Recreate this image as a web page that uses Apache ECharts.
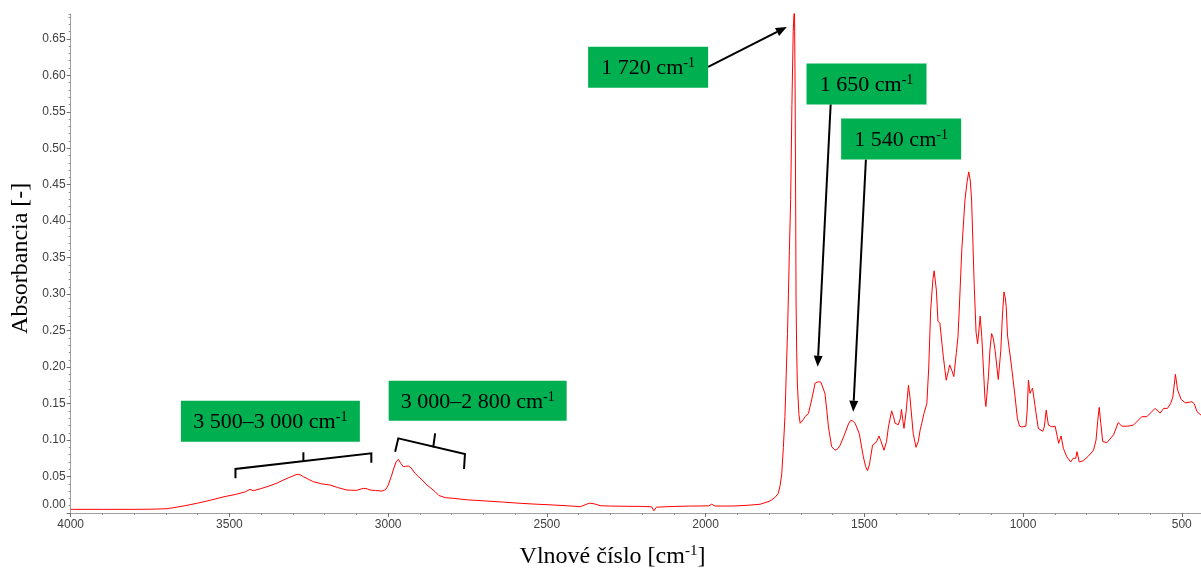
<!DOCTYPE html>
<html>
<head>
<meta charset="utf-8">
<title>FTIR spektrum</title>
<script src="https://cdn.jsdelivr.net/npm/echarts@6/dist/echarts.min.js"></script>
<style>
  html, body { margin: 0; padding: 0; background: #ffffff; }
  #chart { width: 1201px; height: 571px; }
</style>
</head>
<body>
<div id="chart"></div>
<script>
// Wavenumber [cm-1] of each sampled point, from high to low
const wavenumbers = [
  4000, 3900, 3800, 3750, 3700, 3680, 3640, 3600, 3560, 3520, 3480, 3450, 3435, 3425, 3400,
  3372, 3350, 3330, 3310, 3290, 3283, 3275, 3267, 3250, 3236, 3210, 3183, 3160, 3130, 3100,
  3078, 3065, 3057, 3040, 3020, 3008, 3000, 2990, 2984, 2975, 2968, 2960, 2952, 2945, 2936,
  2928, 2915, 2905, 2899, 2892, 2878, 2865, 2852, 2840, 2820, 2795, 2750, 2689, 2640, 2584,
  2530, 2480, 2420, 2395, 2375, 2365, 2350, 2332, 2300, 2250, 2200, 2170, 2163, 2155, 2100,
  2050, 2017, 1990, 1981, 1970, 1913, 1870, 1828, 1800, 1792, 1780, 1771, 1765, 1760, 1755,
  1750, 1746, 1742, 1739, 1736, 1732, 1728, 1724, 1720, 1718, 1716, 1715, 1713, 1711, 1706,
  1702, 1697, 1692, 1687, 1676, 1666, 1655, 1644, 1637, 1631, 1624, 1618, 1613, 1603, 1592,
  1584, 1576, 1561, 1550, 1543, 1536, 1529, 1516, 1503, 1496, 1490, 1484, 1480, 1474, 1466,
  1460, 1454, 1448, 1438, 1430, 1424, 1414, 1408, 1403, 1393, 1386, 1383, 1378, 1375, 1368,
  1361, 1356, 1346, 1337, 1330, 1324, 1319, 1312, 1303, 1297, 1291, 1284, 1280, 1273, 1268,
  1262, 1251, 1242, 1235, 1231, 1224, 1218, 1210, 1205, 1201, 1193, 1183, 1176, 1171, 1166,
  1162, 1154, 1148, 1143, 1138, 1135, 1130, 1125, 1120, 1117, 1109, 1104, 1099, 1094, 1088,
  1078, 1070, 1065, 1060, 1056, 1053, 1049, 1036, 1025, 1018, 1011, 1004, 991, 987, 983,
  978, 974, 970, 962, 952, 938, 933, 927, 922, 920, 909, 899, 892, 888, 880,
  873, 862, 850, 842, 834, 830, 823, 810, 794, 778, 770, 765, 760, 755, 749,
  736, 715, 700, 689, 670, 652, 626, 610, 584, 568, 557, 545, 535, 528, 520,
  513, 502, 489, 468, 461, 452, 439, 420, 400
];

// Absorbance [-] at each wavenumber above
const absorbance = [
  0.005, 0.005, 0.005, 0.0052, 0.0058, 0.007, 0.010, 0.0135, 0.0175, 0.022, 0.0255, 0.029, 0.0325, 0.0305, 0.0335,
  0.0374, 0.041, 0.0452, 0.049, 0.0525, 0.053, 0.052, 0.0497, 0.046, 0.0429, 0.040, 0.0384, 0.035, 0.0315, 0.031,
  0.0338, 0.033, 0.0315, 0.0308, 0.0301, 0.032, 0.038, 0.050, 0.0589, 0.070, 0.0736, 0.068, 0.0634, 0.064, 0.0644,
  0.062, 0.0544, 0.050, 0.0489, 0.045, 0.0384, 0.034, 0.0292, 0.024, 0.021, 0.0201, 0.018, 0.0164, 0.015, 0.0133,
  0.012, 0.011, 0.0095, 0.0086, 0.012, 0.0135, 0.0125, 0.010, 0.0095, 0.0092, 0.009, 0.0085, 0.003, 0.008, 0.009,
  0.0095, 0.0096, 0.0098, 0.012, 0.0095, 0.0096, 0.0105, 0.012, 0.016, 0.0178, 0.022, 0.027, 0.038, 0.054, 0.09,
  0.132, 0.19, 0.246, 0.30, 0.36, 0.43, 0.56, 0.66, 0.70, 0.58, 0.40, 0.292, 0.22, 0.178, 0.135,
  0.123, 0.1205, 0.128, 0.132, 0.1365, 0.155, 0.178, 0.18, 0.1795, 0.178, 0.164, 0.14, 0.118, 0.091, 0.086,
  0.088, 0.093, 0.109, 0.122, 0.127, 0.126, 0.123, 0.109, 0.077, 0.064, 0.058, 0.066, 0.077, 0.093, 0.0955,
  0.099, 0.1055, 0.099, 0.086, 0.098, 0.118, 0.140, 0.132, 0.123, 0.121, 0.13, 0.142, 0.125, 0.116, 0.14,
  0.175, 0.158, 0.109, 0.090, 0.098, 0.114, 0.123, 0.1365, 0.150, 0.20, 0.278, 0.32, 0.332, 0.3055, 0.263,
  0.26, 0.214, 0.182, 0.195, 0.203, 0.195, 0.187, 0.22, 0.2415, 0.278, 0.360, 0.429, 0.455, 0.4676, 0.455,
  0.429, 0.315, 0.248, 0.232, 0.255, 0.270, 0.242, 0.20, 0.157, 0.146, 0.187, 0.225, 0.246, 0.24, 0.223,
  0.183, 0.223, 0.27, 0.303, 0.295, 0.283, 0.244, 0.200, 0.159, 0.13, 0.119, 0.118, 0.119, 0.14, 0.182,
  0.164, 0.168, 0.171, 0.146, 0.116, 0.112, 0.118, 0.141, 0.126, 0.1205, 0.118, 0.119, 0.1045, 0.0955, 0.1055,
  0.0886, 0.077, 0.070, 0.075, 0.075, 0.084, 0.070, 0.0717, 0.078, 0.086, 0.100, 0.125, 0.1448, 0.123, 0.098,
  0.0963, 0.107, 0.124, 0.119, 0.119, 0.1205, 0.132, 0.132, 0.1434, 0.137, 0.1434, 0.1434, 0.150, 0.159, 0.190,
  0.1685, 0.1557, 0.151, 0.1525, 0.150, 0.139, 0.134, 0.132, 0.13
];

// Labelled ticks
const xTickLabels = [4000, 3500, 3000, 2500, 2000, 1500, 1000, 500];
const yTickLabels = [0, 0.05, 0.10, 0.15, 0.20, 0.25, 0.30, 0.35, 0.40, 0.45, 0.50, 0.55, 0.60, 0.65];

// Green callouts: text and centre in data coordinates [cm-1, absorbance]
const callouts = [
  { text: '1 720 cm', at: [2181, 0.611], w: 120, h: 41 },
  { text: '1 650 cm', at: [1493, 0.588], w: 120, h: 41 },
  { text: '1 540 cm', at: [1384, 0.5127], w: 120, h: 41 },
  { text: '3 500\u20133 000 cm', at: [3371, 0.1258], w: 179, h: 41 },
  { text: '3 000\u20132 800 cm', at: [2718, 0.1537], w: 178, h: 40 }
];

// Arrows from callouts to the bands
const arrows = [
  { from: [1992, 0.6114], to: [1744, 0.6662] },
  { from: [1606, 0.5603], to: [1647, 0.2004] },
  { from: [1495, 0.4845], to: [1535, 0.1388] }
];

// Range brackets: polyline plus the centre stub
const brackets = [
  { line: [[3481, 0.0475], [3481, 0.0603], [3053, 0.0818], [3053, 0.0689]], stub: [[3267, 0.0716], [3267, 0.0832]] },
  { line: [[2978, 0.0840], [2968, 0.1023], [2758, 0.0808], [2761, 0.0603]], stub: [[2858, 0.0900], [2852, 0.1092]] }
];

const spectrum = wavenumbers.map((w, i) => [w, absorbance[i]]);

const chart = echarts.init(document.getElementById('chart'), null, { renderer: 'canvas' });

const tickFont = { color: '#404040', fontFamily: 'Liberation Sans, Arial, sans-serif', fontSize: 12 };

chart.setOption({
  animation: false,
  backgroundColor: '#ffffff',
  grid: { left: 70.7, right: -12.5, top: 14, bottom: 58, containLabel: false, outerBoundsMode: 'none' },
  xAxis: [
    {
      type: 'value', inverse: true, min: 400, max: 4000, interval: 100, position: 'bottom',
      axisLine: { show: true, lineStyle: { color: '#a0a0a0', width: 1 } },
      axisTick: { show: true, length: 2, lineStyle: { color: '#909090' } },
      axisLabel: Object.assign({ customValues: xTickLabels, margin: 6, formatter: v => String(v) }, tickFont),
      splitLine: { show: false }
    },
    {
      type: 'value', inverse: true, min: 400, max: 4000, position: 'bottom', offset: 0,
      axisLine: { show: false },
      axisTick: { show: true, customValues: xTickLabels, length: 4, lineStyle: { color: '#707070' } },
      axisLabel: { show: false },
      splitLine: { show: false }
    }
  ],
  yAxis: [
    {
      type: 'value', min: 0, max: 0.684, interval: 0.01, position: 'left',
      axisLine: { show: true, lineStyle: { color: '#a0a0a0', width: 1 } },
      axisTick: { show: true, length: 2, lineStyle: { color: '#909090' } },
      axisLabel: Object.assign({
        customValues: yTickLabels, margin: 5,
        formatter: v => (v === 0 ? '{z|0.00}' : v.toFixed(2)),
        rich: { z: { color: '#404040', fontFamily: 'Liberation Sans, Arial, sans-serif', fontSize: 12, padding: [0, 0, 16, 0] } }
      }, tickFont),
      splitLine: { show: false }
    },
    {
      type: 'value', min: 0, max: 0.684, position: 'left', offset: 0,
      axisLine: { show: false },
      axisTick: { show: true, customValues: yTickLabels, length: 4, lineStyle: { color: '#707070' } },
      axisLabel: { show: false },
      splitLine: { show: false }
    }
  ],
  series: [{
    type: 'line',
    data: spectrum,
    xAxisIndex: 0,
    yAxisIndex: 0,
    symbol: 'none',
    showSymbol: false,
    clip: true,
    silent: true,
    lineStyle: { color: '#ff0000', width: 1 }
  }]
});

// Annotations placed from data coordinates
const px = p => chart.convertToPixel({ gridIndex: 0 }, p);
const serif = 'Liberation Serif, Times New Roman, serif';
const sup = { fontSize: 14, fontFamily: serif, color: '#000', verticalAlign: 'top', lineHeight: 24 };
const graphics = [];

// Axis titles
graphics.push({
  type: 'text', x: 612.5, y: 557, z: 10,
  style: {
    text: 'Vlnové číslo [cm{s|-1}]', fill: '#000', font: '24px ' + serif,
    align: 'center', verticalAlign: 'middle',
    rich: { s: { fontSize: 15, fontFamily: serif, verticalAlign: 'top', lineHeight: 26 } }
  }
});
graphics.push({
  type: 'text', x: 20.5, y: 258.3, rotation: Math.PI / 2, z: 10,
  style: { text: 'Absorbancia [-]', fill: '#000', font: '24px ' + serif, align: 'center', verticalAlign: 'middle' }
});

arrows.forEach(a => {
  const p0 = px(a.from), p1 = px(a.to);
  const dx = p1[0] - p0[0], dy = p1[1] - p0[1];
  const len = Math.hypot(dx, dy), ux = dx / len, uy = dy / len;
  const hl = 11, hw = 4.5;
  const bx = p1[0] - ux * hl, by = p1[1] - uy * hl;
  graphics.push({ type: 'line', z: 20, shape: { x1: p0[0], y1: p0[1], x2: bx, y2: by }, style: { stroke: '#000', lineWidth: 2 } });
  graphics.push({
    type: 'polygon', z: 20,
    shape: { points: [[p1[0], p1[1]], [bx - uy * hw, by + ux * hw], [bx + uy * hw, by - ux * hw]] },
    style: { fill: '#000' }
  });
});

brackets.forEach(b => {
  graphics.push({ type: 'polyline', z: 20, shape: { points: b.line.map(px) }, style: { stroke: '#000', lineWidth: 2, fill: null } });
  graphics.push({ type: 'polyline', z: 20, shape: { points: b.stub.map(px) }, style: { stroke: '#000', lineWidth: 2, fill: null } });
});

callouts.forEach(c => {
  const p = px(c.at);
  graphics.push({
    type: 'rect', z: 30,
    shape: { x: p[0] - c.w / 2, y: p[1] - c.h / 2, width: c.w, height: c.h },
    style: { fill: '#00b050' }
  });
  graphics.push({
    type: 'text', x: p[0], y: p[1] + 1, z: 31,
    style: {
      text: c.text + '{s|-1}', fill: '#000', font: '22px ' + serif,
      align: 'center', verticalAlign: 'middle', rich: { s: sup }
    }
  });
});

chart.setOption({ graphic: graphics });
</script>
</body>
</html>
